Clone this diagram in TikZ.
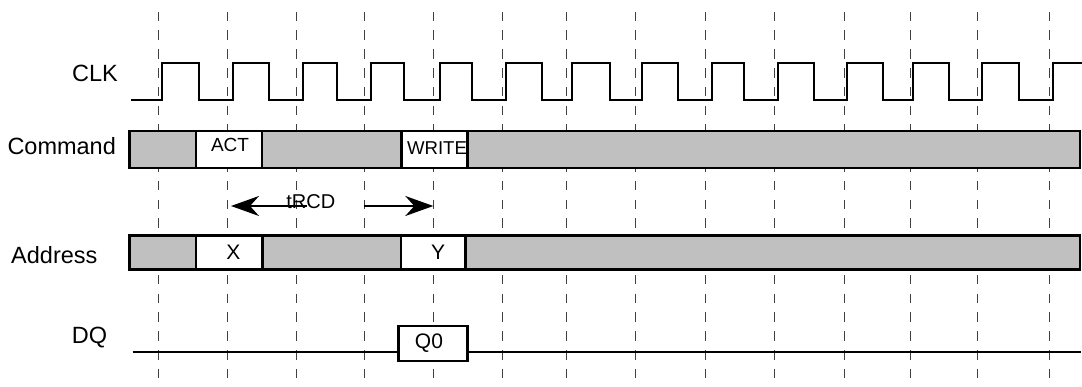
\documentclass[tikz,border=0pt]{standalone}
\usepackage{fontspec}
\setmainfont{Liberation Sans}
\usetikzlibrary{arrows.meta}
\definecolor{barfill}{RGB}{192,192,192}
\begin{document}
\begin{tikzpicture}[x=1pt,y=-1pt,
  grid/.style={draw=black!75, line width=1pt, dash pattern=on 9.5pt off 9.3pt},
  wave/.style={draw=black, line width=2.6pt, line join=miter},
  bar/.style={draw=black, fill=barfill, line width=2.8pt, inner sep=0pt},
  cell/.style={draw=black, fill=white, line width=2.8pt, inner sep=0pt},
  lbl/.style={inner sep=0pt, anchor=base west, font=\fontsize{23.5}{28}\selectfont},
  txt/.style={inner sep=0pt, anchor=base},
  tarrow/.style={draw=black, line width=2pt, -{Stealth[length=28pt,width=20pt,inset=9pt]}}
]
\useasboundingbox (0,0) rectangle (1082,387);

% vertical dashed grid
\foreach \x [count=\i] in {158.3,227.7,296.7,364,433.3,502.3,566.7,635.7,705,774.3,844,910.7,977.3,1049.3}{
  \coordinate (gt\i) at (\x,11.7);
  \coordinate (gb\i) at (\x,387);
  \draw[grid] (gt\i) -- (gb\i);
}

% clock waveform
\draw[wave] (131,100)
  foreach \r/\f in {162/199,233/269,303/337,371/404,440/472,506/542,572/610,642/678,712/744,778/814,847/883,913/949,982/1019}{
    -- (\r,100) -- (\r,63) -- (\f,63) -- (\f,100)
  } -- (1053,100) -- (1053,63) -- (1082,63);

% command bar
\node[bar, minimum width=950.5pt, minimum height=37pt] (cmdbar) at (604.75,149.5) {};
\node[cell, minimum width=66pt, minimum height=37pt] (actbox) at (229,149.5) {};
\node[cell, minimum width=66.1pt, minimum height=37pt] (writebox) at (434.75,149.5) {};
\node[txt, font=\fontsize{19}{22}\selectfont] (acttxt) at (230,151.7) {ACT};
\node[txt, font=\fontsize{18.6}{22}\selectfont] (writetxt) at (437,155) {WRITE};

% address bar
\node[bar, minimum width=950.5pt, minimum height=34pt] (addrbar) at (604.75,252.5) {};
\node[cell, minimum width=66.7pt, minimum height=34pt] (xbox) at (229.35,252.5) {};
\node[cell, minimum width=64.5pt, minimum height=34pt] (ybox) at (433.25,252.5) {};
\node[txt, font=\fontsize{21}{24}\selectfont] (xtxt) at (233.3,260) {X};
\node[txt, font=\fontsize{21}{24}\selectfont] (ytxt) at (438,260) {Y};

% tRCD
\coordinate (la) at (307,206);
\coordinate (ltip) at (231,206);
\coordinate (rb) at (364,206);
\coordinate (rtip) at (433.3,206);
\draw[tarrow] (la) -- (ltip);
\draw[tarrow] (rb) -- (rtip);
\node[txt, font=\fontsize{20}{24}\selectfont] (trcd) at (310.8,208.3) {tRCD};

% DQ
\coordinate (dq0) at (132.7,351.7);
\coordinate (dq1) at (1081,351.7);
\node[cell, minimum width=69.4pt, minimum height=35pt] (q0box) at (433,343.5) {};
\draw[line width=2.2pt] (dq0) -- (dq0 -| q0box.west);
\draw[line width=2.2pt] (dq1 -| q0box.east) -- (dq1);
\node[txt, font=\fontsize{21}{24}\selectfont] (q0txt) at (429,348.3) {Q0};

% labels
\node[lbl] (clklbl) at (72,81.5) {CLK};
\node[lbl] (cmdlbl) at (7.3,154.3) {Command};
\node[lbl] (addrlbl) at (11,263.3) {Address};
\node[lbl] (dqlbl) at (71.7,344) {DQ};
\end{tikzpicture}
\end{document}
